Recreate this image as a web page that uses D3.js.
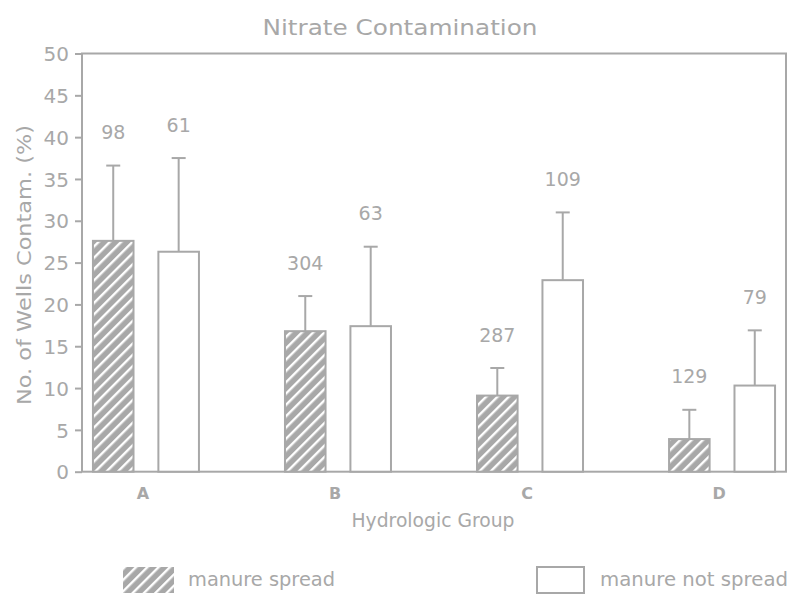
<!DOCTYPE html>
<html>
<head>
<meta charset="utf-8">
<script src="https://cdn.jsdelivr.net/npm/d3@7"></script>
<style>
  body { margin: 0; background: #fff; }
  text { font-family: "DejaVu Sans", sans-serif; fill: #a8a8a8; }
</style>
</head>
<body>
<div id="chart"></div>
<script>
// data
const groups = ["A", "B", "C", "D"];
const seriesNames = ["manure spread", "manure not spread"];
const spreadPct = [27.6, 16.8, 9.1, 3.9];
const spreadErr = [9.0, 4.2, 3.3, 3.5];
const notSpreadPct = [26.3, 17.4, 22.9, 10.3];
const notSpreadErr = [11.2, 9.5, 8.1, 6.6];
const spreadN = [98, 304, 287, 129];
const notSpreadN = [61, 63, 109, 79];
const yTicks = [0, 5, 10, 15, 20, 25, 30, 35, 40, 45, 50];

const grey = "#a8a8a8";
const W = 791, H = 596;
const margin = {top: 53.5, right: 5, bottom: 124.3, left: 82};
const width = W - margin.left - margin.right;
const height = H - margin.top - margin.bottom;

let rows = [];
groups.forEach((g, i) => {
    rows.push({group: g, series: seriesNames[0], value: spreadPct[i], err: spreadErr[i], n: spreadN[i]});
    rows.push({group: g, series: seriesNames[1], value: notSpreadPct[i], err: notSpreadErr[i], n: notSpreadN[i]});
});

const svg = d3.select("#chart").append("svg")
    .attr("width", W)
    .attr("height", H);

// hatch for manure spread
const pat = svg.append("defs").append("pattern")
    .attr("id", "hatch")
    .attr("patternUnits", "userSpaceOnUse")
    .attr("width", 8)
    .attr("height", 8)
    .attr("patternTransform", "rotate(45)");
pat.append("rect").attr("width", 8).attr("height", 8).attr("fill", grey);
pat.append("rect").attr("x", 0).attr("width", 2.4).attr("height", 8).attr("fill", "#fff");

const g = svg.append("g")
    .attr("transform", `translate(${margin.left},${margin.top})`);

const x = d3.scalePoint()
    .domain(groups)
    .range([0, width])
    .padding(0.333);

const xInner = d3.scaleBand()
    .domain(seriesNames)
    .range([-53, 53])
    .paddingInner(0.38);

const y = d3.scaleLinear()
    .domain([0, 50])
    .range([height, 0]);

// frame
g.append("rect")
    .attr("width", width)
    .attr("height", height)
    .attr("fill", "none")
    .attr("stroke", grey)
    .attr("stroke-width", 2);

// y axis
const yAxis = g.append("g")
    .call(d3.axisLeft(y).tickValues(yTicks).tickSize(7).tickPadding(6));
yAxis.select(".domain").remove();
yAxis.selectAll("line").attr("stroke", grey).attr("stroke-width", 2);
yAxis.selectAll("text")
    .attr("fill", grey)
    .style("font-size", "20px")
    .attr("dy", "0.36em");

// x category labels
g.selectAll(".cat")
    .data(groups)
    .enter().append("text")
    .attr("class", "cat")
    .attr("x", d => x(d) - 3)
    .attr("y", height + 22)
    .attr("dy", "0.35em")
    .attr("text-anchor", "middle")
    .style("font-size", "16px")
    .style("font-weight", "bold")
    .text(d => d);

// bars
const bar = g.selectAll(".bar")
    .data(rows)
    .enter().append("g")
    .attr("class", "bar")
    .attr("transform", d => `translate(${x(d.group) + xInner(d.series)},0)`);

const bw = xInner.bandwidth();

bar.append("line")
    .attr("x1", bw / 2).attr("x2", bw / 2)
    .attr("y1", d => y(d.value))
    .attr("y2", d => y(d.value + d.err))
    .attr("stroke", grey).attr("stroke-width", 2);

bar.append("line")
    .attr("x1", bw / 2 - 7).attr("x2", bw / 2 + 7)
    .attr("y1", d => y(d.value + d.err))
    .attr("y2", d => y(d.value + d.err))
    .attr("stroke", grey).attr("stroke-width", 2);

bar.append("rect")
    .attr("x", 0)
    .attr("y", d => y(d.value))
    .attr("width", bw)
    .attr("height", d => height - y(d.value))
    .attr("fill", d => d.series === seriesNames[0] ? "url(#hatch)" : "#fff")
    .attr("stroke", grey)
    .attr("stroke-width", 2);

bar.append("text")
    .attr("x", bw / 2)
    .attr("y", d => y(d.value + d.err) - 33)
    .attr("dy", "0.35em")
    .attr("text-anchor", "middle")
    .style("font-size", "19px")
    .text(d => d.n);

// titles
svg.append("text")
    .attr("x", 400)
    .attr("y", 27)
    .attr("dy", "0.35em")
    .attr("text-anchor", "middle")
    .attr("textLength", 275)
    .attr("lengthAdjust", "spacingAndGlyphs")
    .style("font-size", "22px")
    .text("Nitrate Contamination");

svg.append("text")
    .attr("x", 433)
    .attr("y", 520)
    .attr("dy", "0.35em")
    .attr("text-anchor", "middle")
    .attr("textLength", 163)
    .attr("lengthAdjust", "spacingAndGlyphs")
    .style("font-size", "19px")
    .text("Hydrologic Group");

svg.append("text")
    .attr("transform", "translate(24,265) rotate(-90)")
    .attr("dy", "0.35em")
    .attr("text-anchor", "middle")
    .attr("textLength", 280)
    .attr("lengthAdjust", "spacingAndGlyphs")
    .style("font-size", "19px")
    .text("No. of Wells Contam. (%)");

// legend
const legendPos = [{x: 123, tx: 188, tl: 147}, {x: 537, tx: 600, tl: 188}];
const legend = svg.selectAll(".legend")
    .data(seriesNames)
    .enter().append("g")
    .attr("class", "legend");

legend.append("rect")
    .attr("x", (d, i) => legendPos[i].x)
    .attr("y", 567)
    .attr("width", (d, i) => i === 0 ? 51 : 47)
    .attr("height", 26)
    .attr("fill", (d, i) => i === 0 ? "url(#hatch)" : "#fff")
    .attr("stroke", grey)
    .attr("stroke-width", (d, i) => i === 0 ? 0 : 2);

legend.append("text")
    .attr("x", (d, i) => legendPos[i].tx)
    .attr("y", 579)
    .attr("dy", "0.35em")
    .attr("textLength", (d, i) => legendPos[i].tl)
    .attr("lengthAdjust", "spacingAndGlyphs")
    .style("font-size", "19px")
    .text(d => d);
</script>
</body>
</html>
